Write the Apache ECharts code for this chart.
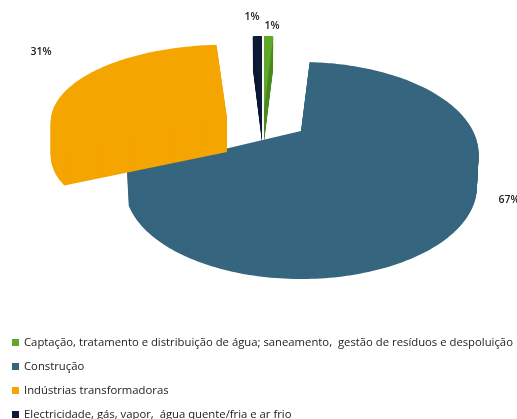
<!DOCTYPE html>
<html>
<head>
<meta charset="utf-8">
<style>html,body{margin:0;padding:0;background:#fff}#chart{width:517px;height:419px}</style>
<script src="https://cdn.jsdelivr.net/npm/echarts@6/dist/echarts.min.js"></script>
</head>
<body>
<div id="chart"></div>
<script>
// Shares per sector, in drawing order (clockwise from 12 o'clock)
const categories = [
  'Captação, tratamento e distribuição de água; saneamento,  gestão de resíduos e despoluição',
  'Construção',
  'Indústrias transformadoras',
  'Electricidade, gás, vapor,  água quente/fria e ar frio'
];
const shares = [1, 67, 31, 1];
const colors = ['#5fa82a', '#36667f', '#f5a500', '#0c1a36'];
const sideColors = ['#4c8a22', '#36667f', '#f5a500', '#0c1a36'];

// Exploded sector placement on the tilted disc: hub, half-width, half-height,
// foreshortening, extrusion depth and how far the lower edge tapers in
const hubs = [[264, 109], [301, 131], [227, 118], [262, 109]];
const widths = [178, 172, 176, 178];
const heights = [88, 86.25, 77, 88];
const foreshortening = [0.206, 0.25, 0.05, 0.206];
const depths = [33, 33, 34, 33];
const tapers = [0.02, 0.01, 0, 0.02];
const labelSpots = [[272, 26], [509, 200], [41, 52], [252, 17]];
// Paint order: the big sector first so the others sit cleanly on top
const paintOrder = [1, 2, 3, 0];

const total = shares.reduce((a, b) => a + b, 0);
const angleStart = shares.map((_, i) =>
  shares.slice(0, i).reduce((a, b) => a + b, 0) / total * Math.PI * 2);

function project(index, angle) {
  const hub = hubs[index];
  const k = foreshortening[index];
  const u = Math.sin(angle), v = -Math.cos(angle), w = 1 - k * v;
  return [hub[0] + widths[index] * u / w, hub[1] + heights[index] * v / w];
}

// Each sector is extruded by stacking its outline downward, slice by slice
function renderSector(index) {
  const hub = hubs[index];
  const a0 = angleStart[index];
  const a1 = a0 + shares[index] / total * Math.PI * 2;
  const n = Math.max(4, Math.ceil((a1 - a0) / 0.02));
  const outline = [hub];
  for (let i = 0; i <= n; i++) outline.push(project(index, a0 + (a1 - a0) * i / n));
  const children = [];
  for (let d = depths[index]; d >= 0; d--) {
    const scale = 1 - tapers[index] * d / depths[index];
    const points = outline.map(p => [hub[0] + (p[0] - hub[0]) * scale, p[1] + d]);
    children.push({
      type: 'polygon',
      shape: { points },
      style: { fill: d === 0 ? colors[index] : sideColors[index] }
    });
  }
  children.push({
    type: 'text',
    z2: 10,
    style: {
      x: labelSpots[index][0], y: labelSpots[index][1],
      text: shares[index] + '%',
      align: 'center', verticalAlign: 'middle',
      font: '600 10.5px "Open Sans"', fill: '#222'
    }
  });
  return { type: 'group', children };
}

const chart = echarts.init(document.getElementById('chart'));
chart.setOption({
  animation: false,
  backgroundColor: '#fff',
  legend: {
    orient: 'vertical',
    left: 12, top: 337,
    height: 200,
    padding: 0,
    itemWidth: 7, itemHeight: 7, itemGap: 13,
    icon: 'rect',
    selectedMode: false,
    data: categories,
    textStyle: {
      fontFamily: 'Open Sans', fontSize: 11.3, color: '#222', lineHeight: 10
    }
  },
  series: categories.map((name, i) => ({
    type: 'custom',
    name,
    coordinateSystem: 'none',
    silent: true,
    z: 2 + paintOrder.indexOf(i),
    itemStyle: { color: colors[i] },
    data: [shares[i]],
    renderItem: () => renderSector(i)
  }))
});
</script>
</body>
</html>
